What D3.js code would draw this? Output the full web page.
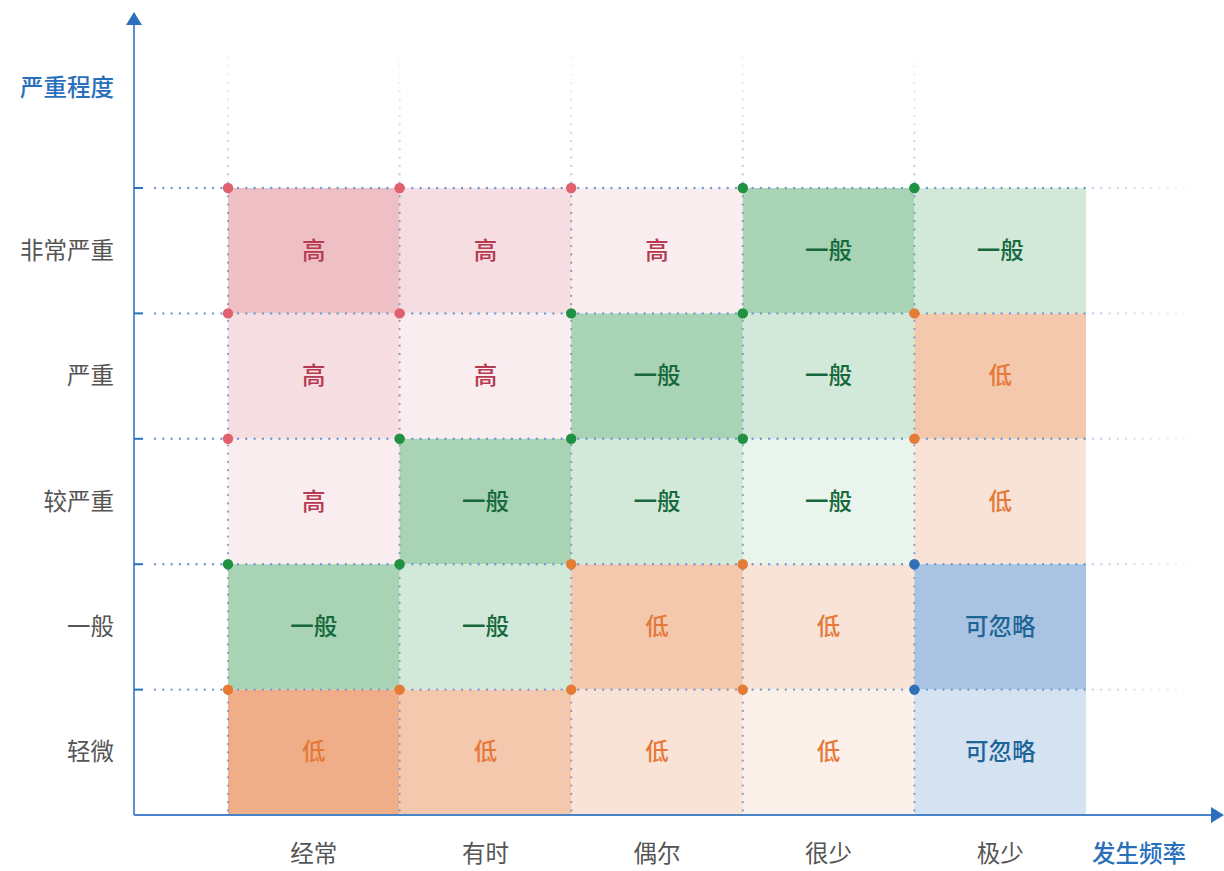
<!DOCTYPE html>
<html>
<head>
<meta charset="utf-8">
<script src="https://cdn.jsdelivr.net/npm/d3@7"></script>
<style>
html,body{margin:0;padding:0;background:#fff;}
svg{display:block;font-family:"Noto Sans CJK SC","Noto Sans",sans-serif;}
</style>
</head>
<body>
<svg id="chart" width="1224" height="871"></svg>
<script>
// ---- data ----
const frequencies = ["经常", "有时", "偶尔", "很少", "极少"];
const severities = ["非常严重", "严重", "较严重", "一般", "轻微"];
// risk level per cell, rows follow severities, columns follow frequencies
const riskLevels = [
  ["高", "高", "高", "一般", "一般"],
  ["高", "高", "一般", "一般", "低"],
  ["高", "一般", "一般", "一般", "低"],
  ["一般", "一般", "低", "低", "可忽略"],
  ["低", "低", "低", "低", "可忽略"]
];
// shade intensity per cell (0 = lightest)
const shadeIndex = [
  [2, 1, 0, 2, 1],
  [1, 0, 2, 1, 2],
  [0, 2, 1, 0, 1],
  [2, 1, 2, 1, 1],
  [3, 2, 1, 0, 0]
];
const yAxisTitle = "严重程度";
const xAxisTitle = "发生频率";

// ---- styles ----
const levelStyle = {
  "高":   {dot: "#e0606f", text: "#b63a50", fills: ["#f9edf0", "#f5dde1", "#eebfc5"]},
  "一般": {dot: "#1f9140", text: "#17693d", fills: ["#e9f4ec", "#d2e9da", "#a8d3b4"]},
  "低":   {dot: "#e57b35", text: "#e5793a", fills: ["#fbf0ea", "#f8e3d6", "#f4c8ad", "#efae87"]},
  "可忽略": {dot: "#2f6fb5", text: "#1e6597", fills: ["#d5e2f1", "#a8c4e2"]}
};

const svg = d3.select("#chart");

const x = d3.scaleBand().domain(frequencies).range([228, 1086]).padding(0);
const y = d3.scaleBand().domain(severities).range([188, 815]).padding(0);

const defs = svg.append("defs");
const hg = defs.append("linearGradient").attr("id", "hfade")
  .attr("gradientUnits", "userSpaceOnUse").attr("x1", 155).attr("x2", 1205).attr("y1", 0).attr("y2", 0);
hg.append("stop").attr("offset", 0).attr("stop-color", "#6e9bd0").attr("stop-opacity", 1);
hg.append("stop").attr("offset", (1086 - 155) / (1205 - 155)).attr("stop-color", "#6e9bd0").attr("stop-opacity", 1);
hg.append("stop").attr("offset", (1090 - 155) / (1205 - 155)).attr("stop-color", "#6e9bd0").attr("stop-opacity", 0.45);
hg.append("stop").attr("offset", 1).attr("stop-color", "#6e9bd0").attr("stop-opacity", 0);

const vg = defs.append("linearGradient").attr("id", "vfade")
  .attr("gradientUnits", "userSpaceOnUse").attr("x1", 0).attr("x2", 0).attr("y1", 58).attr("y2", 188);
vg.append("stop").attr("offset", 0).attr("stop-color", "#a9c3e6").attr("stop-opacity", 0.15);
vg.append("stop").attr("offset", 1).attr("stop-color", "#a9c3e6").attr("stop-opacity", 0.85);

// ---- cells ----
const cells = [];
severities.forEach((s, r) => frequencies.forEach((f, c) => {
  cells.push({sev: s, freq: f, level: riskLevels[r][c], shade: shadeIndex[r][c]});
}));

svg.append("g").selectAll("rect").data(cells).join("rect")
  .attr("x", d => x(d.freq)).attr("y", d => y(d.sev))
  .attr("width", x.bandwidth()).attr("height", y.bandwidth())
  .attr("fill", d => levelStyle[d.level].fills[d.shade]);

// ---- vertical dotted grid lines ----
const colEdges = frequencies.map(f => x(f));
svg.append("g").selectAll("line.vtop").data(colEdges).join("line")
  .attr("x1", d => d).attr("x2", d => d).attr("y1", 58).attr("y2", 186)
  .attr("stroke", "url(#vfade)").attr("stroke-width", 2.4)
  .attr("stroke-linecap", "round").attr("stroke-dasharray", "0 8.3");
svg.append("g").selectAll("line.vin").data(colEdges).join("line")
  .attr("x1", d => d).attr("x2", d => d).attr("y1", 188).attr("y2", 812)
  .attr("stroke", "#7f97ba").attr("stroke-opacity", 0.9).attr("stroke-width", 2.3)
  .attr("stroke-linecap", "round").attr("stroke-dasharray", "0 8.3");

// ---- horizontal dotted grid lines ----
const rowEdges = severities.map(s => y(s));
svg.append("g").selectAll("line.h").data(rowEdges).join("line")
  .attr("x1", 155).attr("x2", 1205).attr("y1", d => d).attr("y2", d => d + 0.001)
  .attr("stroke", "url(#hfade)").attr("stroke-width", 2.4)
  .attr("stroke-linecap", "round").attr("stroke-dasharray", "0 8.3");

// ---- axes ----
const yAxisG = svg.append("g").attr("transform", "translate(134,0)");
yAxisG.append("line").attr("x1", 0).attr("x2", 0).attr("y1", 24).attr("y2", 815)
  .attr("stroke", "#5b8fcf").attr("stroke-width", 2);
yAxisG.append("path").attr("d", "M0,12 L-8,25 L8,25 Z").attr("fill", "#2b6fbd");
yAxisG.selectAll("line.tick").data(rowEdges).join("line")
  .attr("x1", 0).attr("x2", 9).attr("y1", d => d).attr("y2", d => d)
  .attr("stroke", "#2b6fbd").attr("stroke-width", 2);

const xAxisG = svg.append("g").attr("transform", "translate(0,815)");
xAxisG.append("line").attr("x1", 134).attr("x2", 1212).attr("y1", 0).attr("y2", 0)
  .attr("stroke", "#4a84c8").attr("stroke-width", 2);
xAxisG.append("path").attr("d", "M1224,0 L1211,-8 L1211,8 Z").attr("fill", "#2b6fbd");

// ---- dots at top-left corner of each cell ----
svg.append("g").selectAll("circle").data(cells).join("circle")
  .attr("cx", d => x(d.freq)).attr("cy", d => y(d.sev)).attr("r", 5.2)
  .attr("fill", d => levelStyle[d.level].dot);

// ---- cell labels ----
svg.append("g").selectAll("text").data(cells).join("text")
  .attr("x", d => x(d.freq) + x.bandwidth() / 2)
  .attr("y", d => y(d.sev) + y.bandwidth() / 2 - 2)
  .attr("text-anchor", "middle").attr("dominant-baseline", "central")
  .attr("font-size", 23.5).attr("font-weight", 500)
  .attr("fill", d => levelStyle[d.level].text)
  .text(d => d.level);

// ---- category labels ----
svg.append("g").selectAll("text").data(severities).join("text")
  .attr("x", 114).attr("y", d => y(d) + y.bandwidth() / 2 - 2)
  .attr("text-anchor", "end").attr("dominant-baseline", "central")
  .attr("font-size", 23.5).attr("fill", "#555").text(d => d);

svg.append("g").selectAll("text").data(frequencies).join("text")
  .attr("x", d => x(d) + x.bandwidth() / 2).attr("y", 852)
  .attr("text-anchor", "middle").attr("dominant-baseline", "central")
  .attr("font-size", 23.5).attr("fill", "#555").text(d => d);

// ---- axis titles ----
svg.append("text").attr("x", 114).attr("y", 86)
  .attr("text-anchor", "end").attr("dominant-baseline", "central")
  .attr("font-size", 23.5).attr("font-weight", 500).attr("fill", "#2a6fbb").text(yAxisTitle);
svg.append("text").attr("x", 1139).attr("y", 852)
  .attr("text-anchor", "middle").attr("dominant-baseline", "central")
  .attr("font-size", 23.5).attr("font-weight", 500).attr("fill", "#2a6fbb").text(xAxisTitle);
</script>
</body>
</html>
